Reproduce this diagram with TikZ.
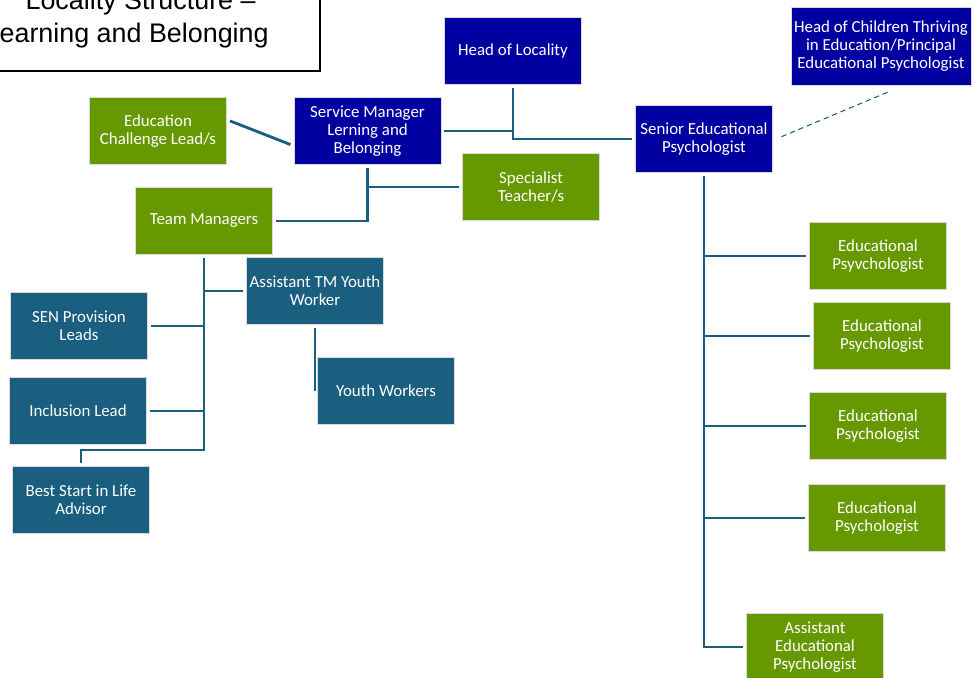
\documentclass[tikz,border=0pt]{standalone}
\usepackage{fontspec}
\setmainfont{Carlito}
\newfontfamily\titlefont{Liberation Sans}
\definecolor{locblue}{HTML}{0000A0}
\definecolor{locgreen}{HTML}{669900}
\definecolor{locteal}{HTML}{1A5E80}
\begin{document}
\begin{tikzpicture}[x=0.02cm,y=-0.02cm,
  box/.style={rectangle,draw=white!85!black,line width=0.3pt,text=white,align=center,
    minimum width=2.74cm,minimum height=1.34cm,inner sep=1pt,outer sep=0.07cm,
    font=\fontsize{9.6}{10.2}\selectfont},
  bluebox/.style={box,fill=locblue},
  greenbox/.style={box,fill=locgreen},
  tealbox/.style={box,fill=locteal},
  link/.style={draw=locteal,line width=1.6pt},
  dashlink/.style={draw=locteal,line width=0.6pt,dash pattern=on 3pt off 2.2pt}]
\useasboundingbox (0,0) rectangle (972,677);
\clip (0,0) rectangle (972,677);
% title
\draw[line width=0.8pt] (-80,-60) rectangle (320,71);
\node[anchor=base east,inner sep=0,font=\titlefont\fontsize{15.3}{18}\selectfont] (title1) at (256,9) {Locality Structure –};
\node[anchor=base east,inner sep=0,font=\titlefont\fontsize{15.3}{18}\selectfont] (title2) at (269,42) {Learning and Belonging};
% top
\node[bluebox] (hol) at (513,51) {Head of Locality};
\node[bluebox,minimum width=3.6cm,minimum height=1.56cm] (hct) at (881,46) {Head of Children Thriving\\in Education/Principal\\Educational Psychologist};
\node[bluebox,minimum width=2.94cm] (sm) at (367.5,131) {Service Manager\\Lerning and\\Belonging};
\node[bluebox] (sep) at (704,139) {Senior Educational\\Psychologist};
\node[greenbox] (ecl) at (158,131) {Education\\Challenge Lead/s};
\node[greenbox] (st) at (531,187) {Specialist\\Teacher/s};
\node[greenbox] (tm) at (204,221) {Team Managers};
% left branch
\node[tealbox] (atm) at (315,291) {Assistant TM Youth\\Worker};
\node[tealbox] (sen) at (79,326) {SEN Provision\\Leads};
\node[tealbox] (yw) at (386,391) {Youth Workers};
\node[tealbox] (inc) at (78,411) {Inclusion Lead};
\node[tealbox] (bsl) at (81,500) {Best Start in Life\\Advisor};
% right branch
\node[greenbox] (ep1) at (878,256) {Educational\\Psyvchologist};
\node[greenbox] (ep2) at (882,336) {Educational\\Psychologist};
\node[greenbox] (ep3) at (878,426) {Educational\\Psychologist};
\node[greenbox] (ep4) at (877,518) {Educational\\Psychologist};
\node[greenbox] (aep) at (815,647) {Assistant\\Educational\\Psychologist};
% connectors
\draw[link] (hol.south) -- (hol.south |- sep.west) -- (sep.west);
\draw[link] (sm.east) -- (sm.east -| hol.south);
\draw[link] (ecl.8) -- (sm.190);
\draw[link] (sm.south) -- (sm.south |- tm.east) -- (tm.east);
\draw[link] (sm.south |- st.west) -- (st.west);
\coordinate (bslup) at (81,450);
\draw[link] (tm.south) -- (tm.south |- bslup) -- (bslup) -- (bsl.north);
\draw[link] (tm.south |- atm.west) -- (atm.west);
\foreach \n in {sen,inc}
  \draw[link] (tm.south |- \n.east) -- (\n.east);
\draw[link] (atm.south) -- (atm.south |- yw.west);
\draw[link] (sep.south) -- (sep.south |- aep.west) -- (aep.west);
\foreach \n in {ep1,ep2,ep3,ep4}
  \draw[link] (sep.south |- \n.west) -- (\n.west);
\draw[dashlink,shorten <=0.12cm,shorten >=0.12cm] (sep.east) -- (hct.290);
\end{tikzpicture}
\end{document}
